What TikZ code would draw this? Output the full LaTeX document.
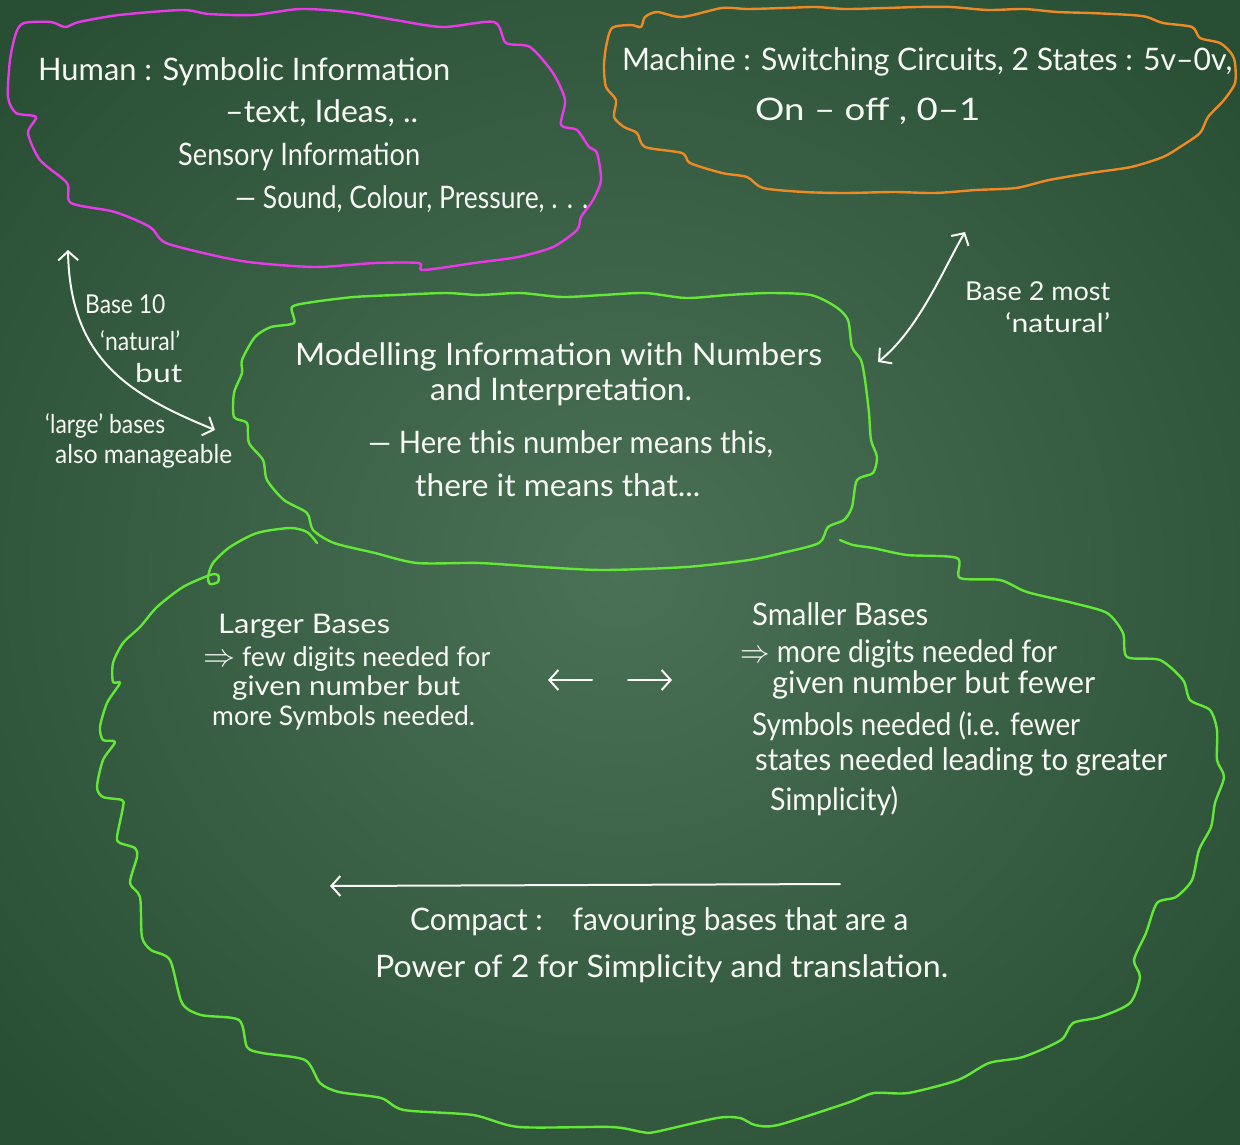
\documentclass[tikz,border=0pt]{standalone}
\usepackage{fontspec}
\setmainfont{Lato}
\usepackage{graphicx}
\usetikzlibrary{arrows.meta}
\definecolor{board}{RGB}{40,78,52}
\definecolor{boardlight}{RGB}{74,112,86}
\definecolor{cmag}{RGB}{232,58,232}
\definecolor{corange}{RGB}{238,138,38}
\definecolor{cgreen}{RGB}{100,232,56}
\definecolor{chalkwhite}{RGB}{248,248,244}
% stretch a line horizontally to the width it has in the reference, keeping its height
\newcommand{\fw}[2]{\resizebox{#1pt}{\height}{#2}}
\newcommand{\impl}{\scalebox{1.3}{$\Rightarrow$}}
\tikzset{
  cloudline/.style={line width=2.4pt, line join=round, line cap=round},
  humcloud/.style={cloudline, draw=cmag},
  maccloud/.style={cloudline, draw=corange},
  modcloud/.style={cloudline, draw=cgreen},
  txt/.style={text=chalkwhite, inner sep=0pt, anchor=base west, font=\fontsize{31}{37}\selectfont},
  smalltxt/.style={txt, font=\fontsize{27}{32}\selectfont},
  sidetxt/.style={txt, font=\fontsize{26}{31}\selectfont},
  chalk/.style={draw=chalkwhite, line width=2pt, line cap=round},
  >={Straight Barb[length=9pt,width=20pt]}
}
\begin{document}
\begin{tikzpicture}[x=1pt,y=-1pt]
\useasboundingbox (0,0) rectangle (1240,1144);
\shade[inner color=boardlight, outer color=board, shading=radial] (-200,-200) rectangle (1440,1344);

% Human cloud (magenta)
\draw[humcloud] plot[smooth cycle, tension=0.45] coordinates {
(16,33) (10,60) (8,97) (16,113) (36,117) (28,133) (40,160) (67,183) (71,203) (115,212) (150,227) (166,243) (221,257) (257,263) (316,267) (375,263) (419,263) (423,270) (474,263) (518,257) (553,247) (577,230) (581,217) (593,200) (601,180) (597,153) (589,147) (577,130) (561,125) (565,100) (553,73) (530,47) (506,43) (494,22) (443,27) (395,20) (348,12) (300,9) (253,15) (209,14) (182,10) (119,15) (79,22) (65,27) (51,22) (24,23)};

% Machine cloud (orange)
\draw[maccloud] plot[smooth cycle, tension=0.45] coordinates {
(631,25) (612,28) (606,47) (604,67) (606,87) (616,100) (614,117) (624,127) (637,133) (645,147) (682,153) (690,163) (722,173) (747,177) (763,188) (804,192) (845,193) (894,192) (935,193) (976,190) (1016,188) (1049,180) (1090,173) (1131,167) (1163,157) (1180,147) (1200,133) (1208,117) (1224,100) (1235,83) (1235,63) (1231,53) (1220,43) (1200,38) (1192,27) (1163,23) (1147,17) (1131,15) (1090,13) (1057,12) (1024,9) (988,10) (951,7) (918,7) (886,8) (845,9) (816,7) (784,8) (747,9) (722,8) (682,17) (657,12) (645,17) (641,27)};

% Modelling cloud (green)
\draw[modcloud] plot[smooth cycle, tension=0.45] coordinates {
(294,323) (292,307) (313,302) (354,297) (396,295) (446,293) (479,295) (520,293) (562,297) (603,295) (645,293) (686,298) (728,295) (769,293) (811,295) (836,307) (848,320) (852,347) (861,360) (865,380) (869,413) (871,440) (877,457) (873,473) (857,480) (852,507) (844,520) (828,527) (819,543) (782,553) (749,560) (686,567) (603,570) (541,567) (479,563) (417,563) (375,553) (334,543) (313,530) (307,513) (284,500) (267,480) (263,460) (249,443) (247,423) (234,417) (234,393) (242,373) (242,360) (255,337) (271,327)};

% Bases cloud (green, open: both ends meet the Modelling cloud)
\draw[modcloud] plot[smooth, tension=0.45] coordinates {
(317,543) (307,532) (290,528) (257,533) (230,547) (213,563) (208,577) (210,584) (218,582) (218,575) (210,575) (183,587) (157,607) (140,627) (123,643) (113,663) (113,682) (120,683) (107,703) (100,727) (103,740) (115,742) (103,760) (97,787) (103,797) (122,800) (123,807) (117,837) (120,843) (135,848) (137,857) (130,883) (140,897) (142,937) (151,950) (170,960) (182,1003) (201,1015) (239,1020) (247,1047) (262,1053) (305,1060) (320,1083) (339,1092) (381,1098) (404,1110) (473,1115) (519,1127) (611,1127) (642,1132) (655,1132) (717,1118) (740,1118) (755,1125) (778,1125) (847,1103) (874,1093) (908,1093) (958,1080) (989,1063) (1023,1057) (1061,1040) (1073,1023) (1100,1017) (1130,1003) (1140,977) (1134,960) (1146,933) (1157,903) (1176,897) (1192,880) (1199,850) (1211,827) (1215,803) (1224,777) (1217,760) (1217,730) (1210,710) (1190,700) (1183,680) (1160,660) (1127,657) (1123,633) (1107,613) (1073,603) (1027,592) (1000,580) (960,578) (957,558) (907,555) (873,548) (853,545) (840,540)};

% Human text
\node[txt] (h1) at (38,80) {\fw{412}{Human : Symbolic Information}};
\node[txt] (h2) at (225,122) {\fw{193}{–text, Ideas, ..}};
\node[txt] (h3) at (178,165) {\fw{242}{Sensory Information}};
\node[txt] (h4) at (235,208) {\fw{353}{— Sound, Colour, Pressure, . . .}};
% Machine text
\node[txt] (m1) at (622,70) {\fw{610}{Machine : Switching Circuits, 2 States : 5v–0v,}};
\node[txt] (m2) at (755,120) {\fw{225}{On – off , 0–1}};
% Left arrow labels
\node[sidetxt] (l1) at (85,313) {\fw{80}{Base 10}};
\node[sidetxt] (l2) at (100,350) {\fw{80}{‘natural’}};
\node[sidetxt] (l3) at (135,382) {\fw{47}{but}};
\node[sidetxt] (l4) at (45,433) {\fw{120}{‘large’ bases}};
\node[sidetxt] (l5) at (55,463) {\fw{177}{also manageable}};
% Right arrow labels
\node[sidetxt] (r1) at (965,300) {\fw{145}{Base 2 most}};
\node[sidetxt] (r2) at (1005,332) {\fw{105}{‘natural’}};
% Modelling text
\node[txt] (c1) at (295,365) {\fw{527}{Modelling Information with Numbers}};
\node[txt] (c2) at (430,400) {\fw{262}{and Interpretation.}};
\node[txt] (c3) at (368,453) {\fw{405}{— Here this number means this,}};
\node[txt] (c4) at (415,496) {\fw{285}{there it means that...}};
% Larger bases
\node[smalltxt] (a1) at (218,633) {\fw{172}{Larger Bases}};
\node[smalltxt] (a2) at (203,666) {\fw{287}{\impl{} few digits needed for}};
\node[smalltxt] (a3) at (232,695) {\fw{228}{given number but}};
\node[smalltxt] (a4) at (212,725) {\fw{263}{more Symbols needed.}};
% Smaller bases
\node[txt] (b1) at (752,625) {\fw{176}{Smaller Bases}};
\node[txt] (b2) at (740,662) {\fw{317}{\impl{} more digits needed for}};
\node[txt] (b3) at (772,693) {\fw{323}{given number but fewer}};
\node[txt] (b4) at (752,735) {\fw{328}{Symbols needed (i.e. fewer}};
\node[txt] (b5) at (755,770) {\fw{412}{states needed leading to greater}};
\node[txt] (b6) at (770,810) {\fw{128}{Simplicity)}};
% Compact
\node[txt] (p1) at (410,930) {\fw{498}{Compact :\quad favouring bases that are a}};
\node[txt] (p2) at (375,977) {\fw{573}{Power of 2 for Simplicity and translation.}};

% Connectors
\coordinate (la1) at (68,250);
\coordinate (la2) at (215,430);
\draw[chalk,<->] (la1) .. controls (70,360) and (130,395) .. (la2);
\coordinate (ra1) at (878,362);
\coordinate (ra2) at (965,232);
\draw[chalk,<->] (ra1) .. controls (918,330) and (942,272) .. (ra2);
\coordinate (sl1) at (592,680);
\coordinate (sl2) at (548,680);
\draw[chalk,->] (sl1) -- (sl2);
\coordinate (sr1) at (628,680);
\coordinate (sr2) at (672,680);
\draw[chalk,->] (sr1) -- (sr2);
\coordinate (pa1) at (840,884);
\coordinate (pa2) at (330,886);
\draw[chalk,->] (pa1) -- (pa2);
\end{tikzpicture}
\end{document}
